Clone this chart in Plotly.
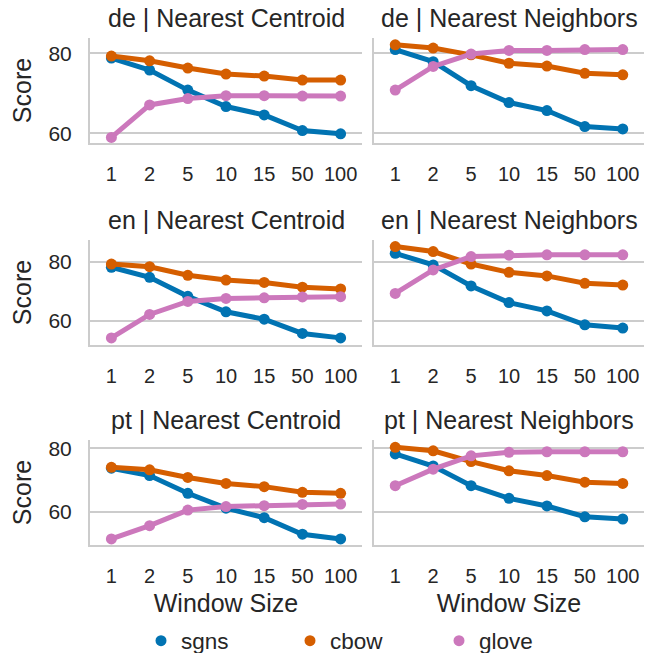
import plotly.graph_objects as go

window_sizes = ["1", "2", "5", "10", "15", "50", "100"]
models = ["sgns", "cbow", "glove"]
colors = {"sgns": "#0173b2", "cbow": "#d55e00", "glove": "#cc78bc"}

de_nc_sgns = [78.8, 75.8, 70.8, 66.7, 64.6, 60.7, 59.9]
de_nc_cbow = [79.3, 78.1, 76.3, 74.8, 74.3, 73.3, 73.3]
de_nc_glove = [59.0, 67.1, 68.7, 69.4, 69.4, 69.3, 69.3]
de_nn_sgns = [80.9, 77.9, 71.9, 67.7, 65.7, 61.7, 61.1]
de_nn_cbow = [82.1, 81.3, 79.6, 77.5, 76.8, 75.0, 74.6]
de_nn_glove = [70.8, 76.7, 79.8, 80.7, 80.7, 80.9, 80.9]

en_nc_sgns = [78.1, 74.7, 68.3, 63.1, 60.6, 55.8, 54.3]
en_nc_cbow = [79.2, 78.3, 75.4, 73.8, 73.0, 71.4, 70.8]
en_nc_glove = [54.3, 62.2, 66.6, 67.6, 67.8, 68.1, 68.2]
en_nn_sgns = [82.8, 78.9, 71.8, 66.2, 63.4, 58.7, 57.6]
en_nn_cbow = [85.1, 83.4, 79.2, 76.4, 75.2, 72.7, 72.1]
en_nn_glove = [69.3, 77.2, 81.7, 82.2, 82.3, 82.3, 82.3]

pt_nc_sgns = [73.7, 71.4, 65.8, 61.1, 58.1, 52.9, 51.4]
pt_nc_cbow = [74.0, 73.2, 70.8, 68.9, 67.9, 66.1, 65.8]
pt_nc_glove = [51.4, 55.6, 60.5, 61.6, 61.9, 62.3, 62.4]
pt_nn_sgns = [78.2, 74.4, 68.2, 64.2, 61.8, 58.4, 57.7]
pt_nn_cbow = [80.3, 79.2, 75.8, 72.9, 71.4, 69.3, 68.9]
pt_nn_glove = [68.2, 73.4, 77.6, 78.7, 78.9, 78.9, 78.9]

panels = [
    ("de | Nearest Centroid", {"sgns": de_nc_sgns, "cbow": de_nc_cbow, "glove": de_nc_glove}),
    ("de | Nearest Neighbors", {"sgns": de_nn_sgns, "cbow": de_nn_cbow, "glove": de_nn_glove}),
    ("en | Nearest Centroid", {"sgns": en_nc_sgns, "cbow": en_nc_cbow, "glove": en_nc_glove}),
    ("en | Nearest Neighbors", {"sgns": en_nn_sgns, "cbow": en_nn_cbow, "glove": en_nn_glove}),
    ("pt | Nearest Centroid", {"sgns": pt_nc_sgns, "cbow": pt_nc_cbow, "glove": pt_nc_glove}),
    ("pt | Nearest Neighbors", {"sgns": pt_nn_sgns, "cbow": pt_nn_cbow, "glove": pt_nn_glove}),
]

W, H = 645, 653
x_doms = [(90 / W, 362 / W), (374 / W, 644 / W)]
row_px = [(38, 143), (240, 345), (440, 545)]
y_doms = [(1 - b / H, 1 - t / H) for t, b in row_px]
y_ranges = [(57.6, 83.8), (51.9, 87.3), (49.5, 82.6)]

FONT = "Liberation Sans, Arial, sans-serif"
TXT = "#262626"
GRID = "#cccccc"

fig = go.Figure()
layout = dict(
    width=W, height=H, margin=dict(l=0, r=0, t=0, b=0, autoexpand=False),
    paper_bgcolor="white", plot_bgcolor="white",
    font=dict(family=FONT, size=20, color=TXT),
    showlegend=True,
)
annotations = []

for i, (title, series) in enumerate(panels):
    r, c = divmod(i, 2)
    idx = i + 1
    xa = "x" if idx == 1 else f"x{idx}"
    ya = "y" if idx == 1 else f"y{idx}"
    for m in models:
        fig.add_trace(go.Scatter(
            x=window_sizes, y=series[m], mode="lines+markers",
            line=dict(color=colors[m], width=5),
            marker=dict(color=colors[m], size=11),
            xaxis=xa, yaxis=ya, showlegend=False, name=m,
        ))
    xkey = "xaxis" if idx == 1 else f"xaxis{idx}"
    ykey = "yaxis" if idx == 1 else f"yaxis{idx}"
    layout[xkey] = dict(
        domain=list(x_doms[c]), anchor=ya, type="category",
        categoryorder="array", categoryarray=window_sizes,
        range=[-0.56, 6.56], showgrid=False, zeroline=False,
        showline=True, linecolor=GRID, linewidth=2,
        ticks="outside", ticklen=12, tickcolor="rgba(0,0,0,0)",
        ticklabeloverflow="allow",
        tickfont=dict(size=20, color=TXT),
        title=dict(text="Window Size" if r == 2 else "", font=dict(size=25, color=TXT), standoff=8),
    )
    layout[ykey] = dict(
        domain=list(y_doms[r]), anchor=xa, range=list(y_ranges[r]),
        tickvals=[60, 80], showgrid=True, gridcolor=GRID, gridwidth=2,
        zeroline=False, showline=True, linecolor=GRID, linewidth=2,
        ticks="outside", ticklen=12, tickcolor="rgba(0,0,0,0)",
        showticklabels=(c == 0),
        tickfont=dict(size=21, color=TXT),
        title=dict(text="Score" if c == 0 else "", font=dict(size=25, color=TXT), standoff=10),
    )
    annotations.append(dict(
        text=title, xref="paper", yref="paper",
        x=(x_doms[c][0] + x_doms[c][1]) / 2, y=y_doms[r][1] + 20 / H,
        xanchor="center", yanchor="middle", showarrow=False,
        font=dict(size=25, color=TXT),
    ))

for m in models:
    fig.add_trace(go.Scatter(
        x=[None], y=[None], mode="markers", name=m,
        marker=dict(color=colors[m], size=11), showlegend=True,
    ))

layout["annotations"] = annotations
layout["legend"] = dict(
    orientation="h", x=141 / W, y=(H - 641) / H, xanchor="left", yanchor="middle",
    entrywidth=104, entrywidthmode="pixels", font=dict(size=22.5, color=TXT),
    bgcolor="rgba(0,0,0,0)", itemclick=False,
)
fig.update_layout(**layout)
fig.write_html("out.html", config={"displayModeBar": False},
               post_script="document.body.style.margin='0';")
